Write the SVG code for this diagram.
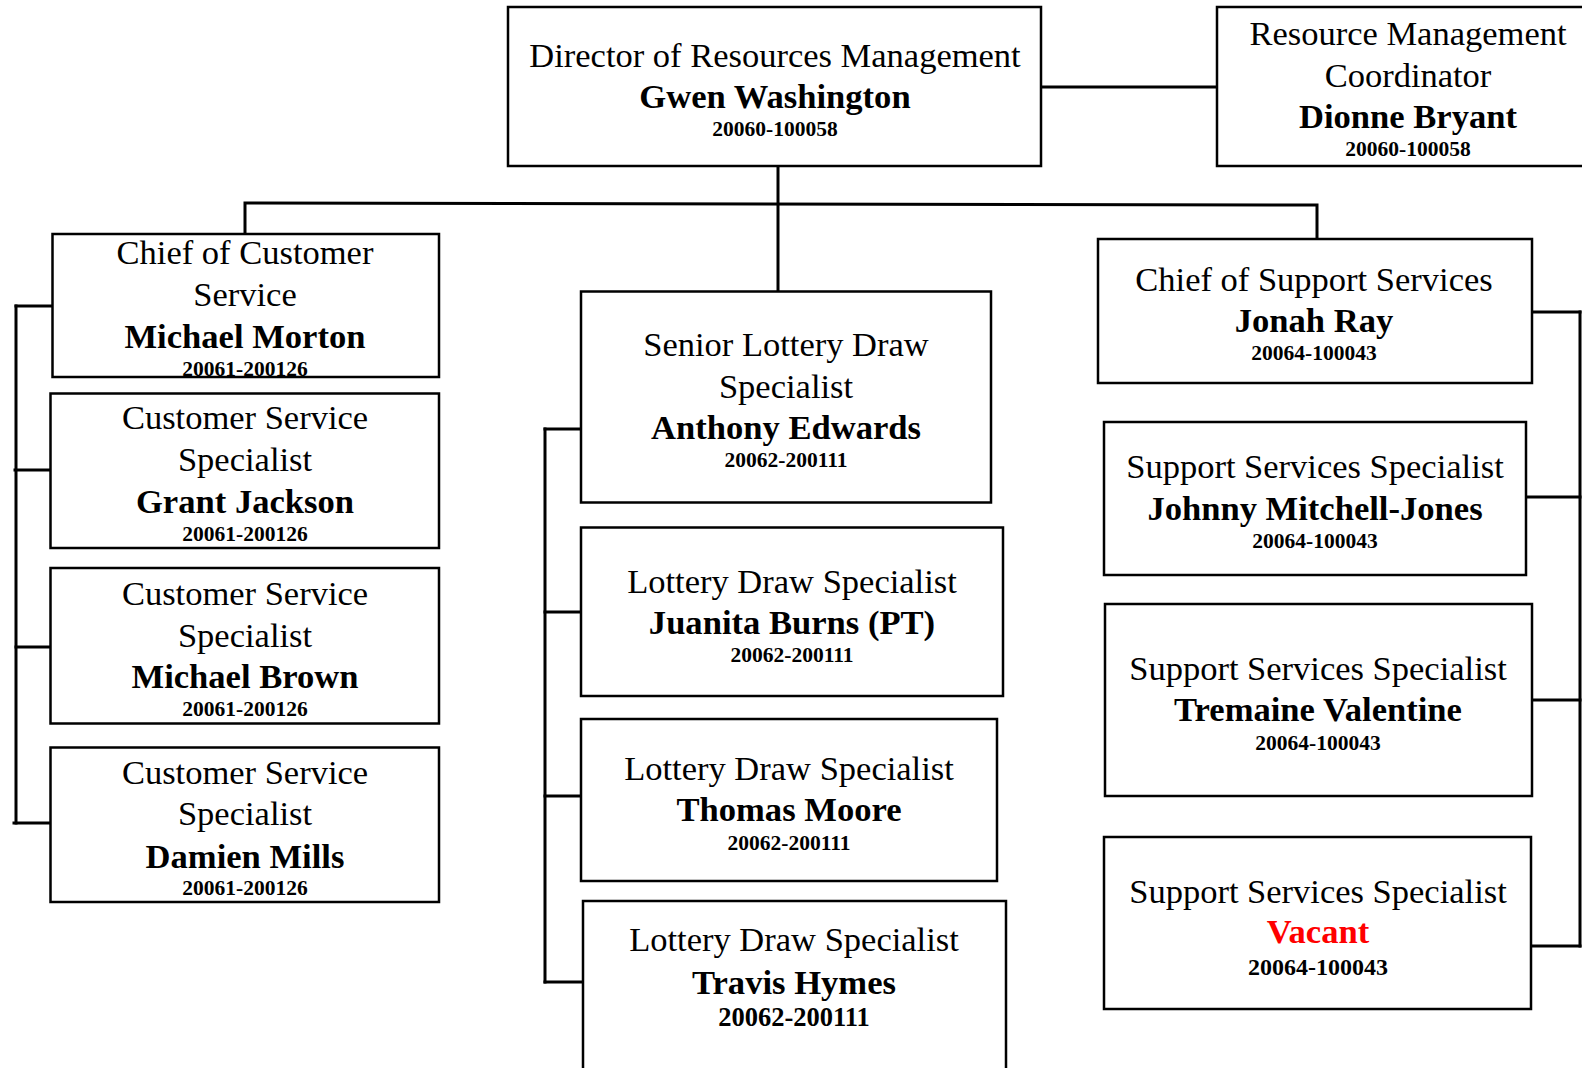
<svg xmlns="http://www.w3.org/2000/svg" width="1582" height="1068" viewBox="0 0 1582 1068">
  <style>
    .box { fill: #ffffff; stroke: #000000; stroke-width: 2.5; }
    .wire { fill: none; stroke: #000000; stroke-width: 3; stroke-linecap: square; }
    text { font-family: "Liberation Serif", "Times New Roman", serif; text-anchor: middle; fill: #000000; }
    .role { font-size: 34.5px; }
    .name { font-size: 34.6px; font-weight: bold; }
    .code { font-size: 21.5px; font-weight: bold; }
    .vacant { fill: #ff0000; }
  </style>
  <rect width="1582" height="1068" fill="#ffffff"/>

  <!-- reporting lines -->
  <g id="connectors">
    <path class="wire" d="M1041 87 H1217"/>
    <path class="wire" d="M778 167 V291"/>
    <path class="wire" d="M245 233 V203 L1317 205 V239"/>
    <path class="wire" d="M16 306 V823"/>
    <path class="wire" d="M16 306 H52 M15 470 H50 M16 647 H54 M14 823 H50"/>
    <path class="wire" d="M545 429 V982"/>
    <path class="wire" d="M545 429 H583 M545 612 H581 M545 796 H581 M545 982 H583"/>
    <path class="wire" d="M1580 312 V946"/>
    <path class="wire" d="M1532 312 H1580 M1526 497 H1580 M1532 700 H1580 M1531 946 H1580"/>
  </g>

  <g id="director">
    <rect class="box" x="508" y="7" width="533" height="159"/>
    <text class="role" x="775" y="67">Director of Resources Management</text>
    <text class="name" x="775" y="108">Gwen Washington</text>
    <text class="code" x="775" y="136">20060-100058</text>
  </g>

  <g id="coordinator">
    <rect class="box" x="1217" y="7" width="380" height="159"/>
    <text class="role" x="1408" y="45">Resource Management</text>
    <text class="role" x="1408" y="87">Coordinator</text>
    <text class="name" x="1408" y="128">Dionne Bryant</text>
    <text class="code" x="1408" y="156">20060-100058</text>
  </g>

  <g id="chief-customer-service">
    <rect class="box" x="52.5" y="234" width="386.5" height="143"/>
    <text class="role" x="245" y="264">Chief of Customer</text>
    <text class="role" x="245" y="306">Service</text>
    <text class="name" x="245" y="348">Michael Morton</text>
    <text class="code" x="245" y="376">20061-200126</text>
  </g>

  <g id="cs-grant-jackson">
    <rect class="box" x="50.5" y="393.5" width="388.5" height="154.5"/>
    <text class="role" x="245" y="429">Customer Service</text>
    <text class="role" x="245" y="471">Specialist</text>
    <text class="name" x="245" y="513">Grant Jackson</text>
    <text class="code" x="245" y="541">20061-200126</text>
  </g>

  <g id="cs-michael-brown">
    <rect class="box" x="50.5" y="568" width="388.5" height="155.5"/>
    <text class="role" x="245" y="605">Customer Service</text>
    <text class="role" x="245" y="647">Specialist</text>
    <text class="name" x="245" y="688">Michael Brown</text>
    <text class="code" x="245" y="716">20061-200126</text>
  </g>

  <g id="cs-damien-mills">
    <rect class="box" x="50.5" y="747.5" width="388.5" height="154.5"/>
    <text class="role" x="245" y="784">Customer Service</text>
    <text class="role" x="245" y="825">Specialist</text>
    <text class="name" x="245" y="868">Damien Mills</text>
    <text class="code" x="245" y="895">20061-200126</text>
  </g>

  <g id="senior-lottery-draw">
    <rect class="box" x="581" y="291.5" width="410" height="211"/>
    <text class="role" x="786" y="356">Senior Lottery Draw</text>
    <text class="role" x="786" y="398">Specialist</text>
    <text class="name" x="786" y="439">Anthony Edwards</text>
    <text class="code" x="786" y="467">20062-200111</text>
  </g>

  <g id="lds-juanita-burns">
    <rect class="box" x="581" y="527.5" width="422" height="168.5"/>
    <text class="role" x="792" y="593">Lottery Draw Specialist</text>
    <text class="name" x="792" y="634">Juanita Burns (PT)</text>
    <text class="code" x="792" y="662">20062-200111</text>
  </g>

  <g id="lds-thomas-moore">
    <rect class="box" x="581" y="719" width="416" height="162"/>
    <text class="role" x="789" y="780">Lottery Draw Specialist</text>
    <text class="name" x="789" y="821">Thomas Moore</text>
    <text class="code" x="789" y="850">20062-200111</text>
  </g>

  <g id="lds-travis-hymes">
    <rect class="box" x="583" y="901" width="423" height="190"/>
    <text class="role" x="794" y="951">Lottery Draw Specialist</text>
    <text class="name" x="794" y="994">Travis Hymes</text>
    <text class="code" x="794" y="1026" style="font-size:26.5px">20062-200111</text>
  </g>

  <g id="chief-support-services">
    <rect class="box" x="1098" y="239" width="434" height="144"/>
    <text class="role" x="1314" y="291">Chief of Support Services</text>
    <text class="name" x="1314" y="332">Jonah Ray</text>
    <text class="code" x="1314" y="360">20064-100043</text>
  </g>

  <g id="sss-johnny-mitchell-jones">
    <rect class="box" x="1104" y="422" width="422" height="153"/>
    <text class="role" x="1315" y="478">Support Services Specialist</text>
    <text class="name" x="1315" y="520">Johnny Mitchell-Jones</text>
    <text class="code" x="1315" y="548">20064-100043</text>
  </g>

  <g id="sss-tremaine-valentine">
    <rect class="box" x="1105" y="604" width="427" height="192"/>
    <text class="role" x="1318" y="680">Support Services Specialist</text>
    <text class="name" x="1318" y="721">Tremaine Valentine</text>
    <text class="code" x="1318" y="750">20064-100043</text>
  </g>

  <g id="sss-vacant">
    <rect class="box" x="1104" y="837" width="427" height="172"/>
    <text class="role" x="1318" y="903">Support Services Specialist</text>
    <text class="name vacant" x="1318" y="943">Vacant</text>
    <text class="code" x="1318" y="975" style="font-size:24px">20064-100043</text>
  </g>
</svg>
